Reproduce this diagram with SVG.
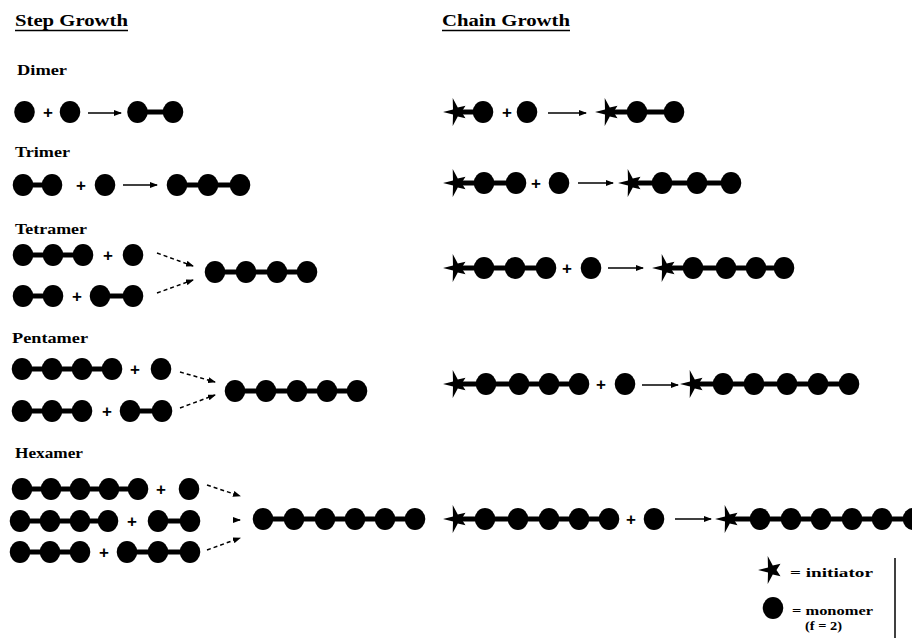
<svg xmlns="http://www.w3.org/2000/svg" xmlns:xlink="http://www.w3.org/1999/xlink" width="912" height="638" viewBox="0 0 912 638">
  <style>
    .txt{font-family:"Liberation Serif","Times New Roman",serif;font-weight:bold;fill:#000}
    .head{font-size:17px}
    .lab{font-size:15px}
    .leg{font-size:13px}
    .rule{stroke:#000;stroke-width:1.6}
    .plus{font-family:"Liberation Sans",Arial,sans-serif;font-weight:bold;font-size:17px;text-anchor:middle;fill:#000}
    .bond{stroke:#000;stroke-width:5}
    .arr{stroke:#000;stroke-width:1.5;fill:none;marker-end:url(#ah)}
    .dash{stroke-dasharray:4 3}
  </style>
  <defs>
    <!-- monomer unit -->
    <ellipse id="m" cx="0" cy="0" rx="10.3" ry="11" fill="#000"/>
    <!-- initiator star, one point facing left -->
    <path id="s" fill="#000" d="M-14,0 L-4,-2.6 L-4.3,-14 L0.8,-4.4 L8.5,-6.2 L4.5,0 L8.5,6.2 L0.8,4.4 L-4.3,14 L-4,2.6 Z"/>
    <marker id="ah" markerUnits="userSpaceOnUse" markerWidth="8" markerHeight="6" refX="7" refY="3" orient="auto">
      <path d="M0,0 L8,3 L0,6 Z" fill="#000"/>
    </marker>
  </defs>

  <rect width="912" height="638" fill="#fff"/>

  <!-- column headings -->
  <g id="heading-step">
    <text class="txt head" x="15" y="26" textLength="113" lengthAdjust="spacingAndGlyphs">Step Growth</text>
    <line class="rule" x1="15" y1="30.5" x2="128" y2="30.5"/>
  </g>
  <g id="heading-chain">
    <text class="txt head" x="442" y="26" textLength="128" lengthAdjust="spacingAndGlyphs">Chain Growth</text>
    <line class="rule" x1="442" y1="30.5" x2="570" y2="30.5"/>
  </g>

  <!-- row labels -->
  <g id="labels">
    <text class="txt lab" x="17" y="75" textLength="50" lengthAdjust="spacingAndGlyphs">Dimer</text>
    <text class="txt lab" x="15" y="157" textLength="55" lengthAdjust="spacingAndGlyphs">Trimer</text>
    <text class="txt lab" x="15" y="234" textLength="72" lengthAdjust="spacingAndGlyphs">Tetramer</text>
    <text class="txt lab" x="12" y="343" textLength="76" lengthAdjust="spacingAndGlyphs">Pentamer</text>
    <text class="txt lab" x="15" y="458" textLength="68" lengthAdjust="spacingAndGlyphs">Hexamer</text>
  </g>

  <!-- ===== Step growth ===== -->
  <!-- dimer -->
  <g id="sg-dimer-r1"><use href="#m" x="24.5" y="112"/></g>
  <text class="plus" x="48" y="118">+</text>
  <g id="sg-dimer-r2"><use href="#m" x="70" y="112"/></g>
  <g id="sg-dimer-p">
    <line class="bond" x1="137.5" y1="112" x2="173" y2="112"/>
    <use href="#m" x="137.5" y="112"/><use href="#m" x="173" y="112"/>
  </g>

  <!-- trimer -->
  <g id="sg-trimer-r1">
    <line class="bond" x1="23" y1="185" x2="52" y2="185"/>
    <use href="#m" x="23" y="185"/><use href="#m" x="52" y="185"/>
  </g>
  <text class="plus" x="81" y="191">+</text>
  <g id="sg-trimer-r2"><use href="#m" x="105" y="185"/></g>
  <g id="sg-trimer-p">
    <line class="bond" x1="177" y1="185" x2="240" y2="185"/>
    <use href="#m" x="177" y="185"/><use href="#m" x="208" y="185"/><use href="#m" x="240" y="185"/>
  </g>

  <!-- tetramer -->
  <g id="sg-tetramer-r1">
    <line class="bond" x1="23" y1="255" x2="83" y2="255"/>
    <use href="#m" x="23" y="255"/><use href="#m" x="53" y="255"/><use href="#m" x="83" y="255"/>
  </g>
  <text class="plus" x="108" y="261">+</text>
  <g id="sg-tetramer-r2"><use href="#m" x="133" y="255"/></g>
  <g id="sg-tetramer-r3">
    <line class="bond" x1="23" y1="296" x2="53" y2="296"/>
    <use href="#m" x="23" y="296"/><use href="#m" x="53" y="296"/>
  </g>
  <text class="plus" x="77" y="302">+</text>
  <g id="sg-tetramer-r4">
    <line class="bond" x1="100" y1="296" x2="133" y2="296"/>
    <use href="#m" x="100" y="296"/><use href="#m" x="133" y="296"/>
  </g>
  <g id="sg-tetramer-p">
    <line class="bond" x1="215" y1="272" x2="307" y2="272"/>
    <use href="#m" x="215" y="272"/><use href="#m" x="246" y="272"/><use href="#m" x="277" y="272"/><use href="#m" x="307" y="272"/>
  </g>

  <!-- pentamer -->
  <g id="sg-pentamer-r1">
    <line class="bond" x1="22" y1="369" x2="112" y2="369"/>
    <use href="#m" x="22" y="369"/><use href="#m" x="52" y="369"/><use href="#m" x="82" y="369"/><use href="#m" x="112" y="369"/>
  </g>
  <text class="plus" x="135" y="375">+</text>
  <g id="sg-pentamer-r2"><use href="#m" x="161" y="369"/></g>
  <g id="sg-pentamer-r3">
    <line class="bond" x1="22" y1="411" x2="82" y2="411"/>
    <use href="#m" x="22" y="411"/><use href="#m" x="52" y="411"/><use href="#m" x="82" y="411"/>
  </g>
  <text class="plus" x="107" y="417">+</text>
  <g id="sg-pentamer-r4">
    <line class="bond" x1="130" y1="411" x2="162" y2="411"/>
    <use href="#m" x="130" y="411"/><use href="#m" x="162" y="411"/>
  </g>
  <g id="sg-pentamer-p">
    <line class="bond" x1="235" y1="391" x2="357" y2="391"/>
    <use href="#m" x="235" y="391"/><use href="#m" x="266" y="391"/><use href="#m" x="297" y="391"/><use href="#m" x="327" y="391"/><use href="#m" x="357" y="391"/>
  </g>

  <!-- hexamer -->
  <g id="sg-hexamer-r1">
    <line class="bond" x1="22" y1="489" x2="138" y2="489"/>
    <use href="#m" x="22" y="489"/><use href="#m" x="51" y="489"/><use href="#m" x="80" y="489"/><use href="#m" x="109" y="489"/><use href="#m" x="138" y="489"/>
  </g>
  <text class="plus" x="161" y="495">+</text>
  <g id="sg-hexamer-r2"><use href="#m" x="189" y="489"/></g>
  <g id="sg-hexamer-r3">
    <line class="bond" x1="20" y1="521" x2="108" y2="521"/>
    <use href="#m" x="20" y="521"/><use href="#m" x="50" y="521"/><use href="#m" x="80" y="521"/><use href="#m" x="108" y="521"/>
  </g>
  <text class="plus" x="132" y="527">+</text>
  <g id="sg-hexamer-r4">
    <line class="bond" x1="158" y1="521" x2="190" y2="521"/>
    <use href="#m" x="158" y="521"/><use href="#m" x="190" y="521"/>
  </g>
  <g id="sg-hexamer-r5">
    <line class="bond" x1="20" y1="552" x2="80" y2="552"/>
    <use href="#m" x="20" y="552"/><use href="#m" x="50" y="552"/><use href="#m" x="80" y="552"/>
  </g>
  <text class="plus" x="104" y="558">+</text>
  <g id="sg-hexamer-r6">
    <line class="bond" x1="127" y1="552" x2="190" y2="552"/>
    <use href="#m" x="127" y="552"/><use href="#m" x="158" y="552"/><use href="#m" x="190" y="552"/>
  </g>
  <g id="sg-hexamer-p">
    <line class="bond" x1="263" y1="519" x2="415" y2="519"/>
    <use href="#m" x="263" y="519"/><use href="#m" x="294" y="519"/><use href="#m" x="325" y="519"/><use href="#m" x="355" y="519"/><use href="#m" x="385" y="519"/><use href="#m" x="415" y="519"/>
  </g>

  <!-- ===== Chain growth ===== -->
  <!-- dimer -->
  <g id="cg-dimer-r1">
    <line class="bond" x1="457" y1="112" x2="483" y2="112"/>
    <use href="#s" x="457" y="112"/><use href="#m" x="483" y="112"/>
  </g>
  <text class="plus" x="507" y="118">+</text>
  <g id="cg-dimer-r2"><use href="#m" x="527" y="112"/></g>
  <g id="cg-dimer-p">
    <line class="bond" x1="609" y1="112" x2="674" y2="112"/>
    <use href="#s" x="609" y="112"/><use href="#m" x="637" y="112"/><use href="#m" x="674" y="112"/>
  </g>

  <!-- trimer -->
  <g id="cg-trimer-r1">
    <line class="bond" x1="457" y1="183" x2="516" y2="183"/>
    <use href="#s" x="457" y="183"/><use href="#m" x="484" y="183"/><use href="#m" x="516" y="183"/>
  </g>
  <text class="plus" x="536" y="189">+</text>
  <g id="cg-trimer-r2"><use href="#m" x="559" y="183"/></g>
  <g id="cg-trimer-p">
    <line class="bond" x1="632" y1="183" x2="731" y2="183"/>
    <use href="#s" x="632" y="183"/><use href="#m" x="662" y="183"/><use href="#m" x="697" y="183"/><use href="#m" x="731" y="183"/>
  </g>

  <!-- tetramer -->
  <g id="cg-tetramer-r1">
    <line class="bond" x1="457" y1="268" x2="546" y2="268"/>
    <use href="#s" x="457" y="268"/><use href="#m" x="484" y="268"/><use href="#m" x="515" y="268"/><use href="#m" x="546" y="268"/>
  </g>
  <text class="plus" x="567" y="274">+</text>
  <g id="cg-tetramer-r2"><use href="#m" x="591" y="268"/></g>
  <g id="cg-tetramer-p">
    <line class="bond" x1="666" y1="268" x2="784" y2="268"/>
    <use href="#s" x="666" y="268"/><use href="#m" x="693" y="268"/><use href="#m" x="726" y="268"/><use href="#m" x="756" y="268"/><use href="#m" x="784" y="268"/>
  </g>

  <!-- pentamer -->
  <g id="cg-pentamer-r1">
    <line class="bond" x1="457" y1="384" x2="579" y2="384"/>
    <use href="#s" x="457" y="384"/><use href="#m" x="486" y="384"/><use href="#m" x="519" y="384"/><use href="#m" x="549" y="384"/><use href="#m" x="579" y="384"/>
  </g>
  <text class="plus" x="601" y="390">+</text>
  <g id="cg-pentamer-r2"><use href="#m" x="625" y="384"/></g>
  <g id="cg-pentamer-p">
    <line class="bond" x1="694" y1="384" x2="849" y2="384"/>
    <use href="#s" x="694" y="384"/><use href="#m" x="723" y="384"/><use href="#m" x="754" y="384"/><use href="#m" x="787" y="384"/><use href="#m" x="818" y="384"/><use href="#m" x="849" y="384"/>
  </g>

  <!-- hexamer -->
  <g id="cg-hexamer-r1">
    <line class="bond" x1="457" y1="519" x2="609" y2="519"/>
    <use href="#s" x="457" y="519"/><use href="#m" x="485" y="519"/><use href="#m" x="518" y="519"/><use href="#m" x="549" y="519"/><use href="#m" x="579" y="519"/><use href="#m" x="609" y="519"/>
  </g>
  <text class="plus" x="631" y="525">+</text>
  <g id="cg-hexamer-r2"><use href="#m" x="654" y="519"/></g>
  <g id="cg-hexamer-p">
    <line class="bond" x1="729" y1="519" x2="913" y2="519"/>
    <use href="#s" x="729" y="519"/><use href="#m" x="760" y="519"/><use href="#m" x="791" y="519"/><use href="#m" x="821" y="519"/><use href="#m" x="852" y="519"/><use href="#m" x="882" y="519"/><use href="#m" x="913" y="519"/>
  </g>

  <!-- reaction arrows -->
  <g id="connectors">
    <line class="arr" x1="88" y1="113" x2="121" y2="113"/>
    <line class="arr" x1="123" y1="185" x2="157" y2="185"/>
    <line class="arr dash" x1="157" y1="253" x2="193" y2="266"/>
    <line class="arr dash" x1="157" y1="293" x2="193" y2="280"/>
    <line class="arr dash" x1="180" y1="372" x2="215" y2="382"/>
    <line class="arr dash" x1="180" y1="408" x2="215" y2="395"/>
    <line class="arr dash" x1="207" y1="485" x2="240" y2="496"/>
    <line class="arr" x1="236" y1="520" x2="240" y2="520"/>
    <line class="arr dash" x1="207" y1="550" x2="240" y2="538"/>
    <line class="arr" x1="548" y1="113" x2="586" y2="113"/>
    <line class="arr" x1="578" y1="183" x2="613" y2="183"/>
    <line class="arr" x1="608" y1="268" x2="643" y2="268"/>
    <line class="arr" x1="642" y1="385" x2="678" y2="385"/>
    <line class="arr" x1="675" y1="519" x2="711" y2="519"/>
  </g>

  <!-- key -->
  <g id="legend">
    <use href="#s" x="772" y="570"/>
    <text class="txt leg" x="790" y="577" textLength="83" lengthAdjust="spacingAndGlyphs">= initiator</text>
    <use href="#m" x="773" y="608"/>
    <text class="txt leg" x="792" y="615" textLength="81" lengthAdjust="spacingAndGlyphs">= monomer</text>
    <text class="txt leg" x="805" y="630" textLength="37" lengthAdjust="spacingAndGlyphs" style="font-size:12px">(f = 2)</text>
    <line x1="895" y1="558" x2="895" y2="638" stroke="#000" stroke-width="1.5"/>
  </g>
</svg>
